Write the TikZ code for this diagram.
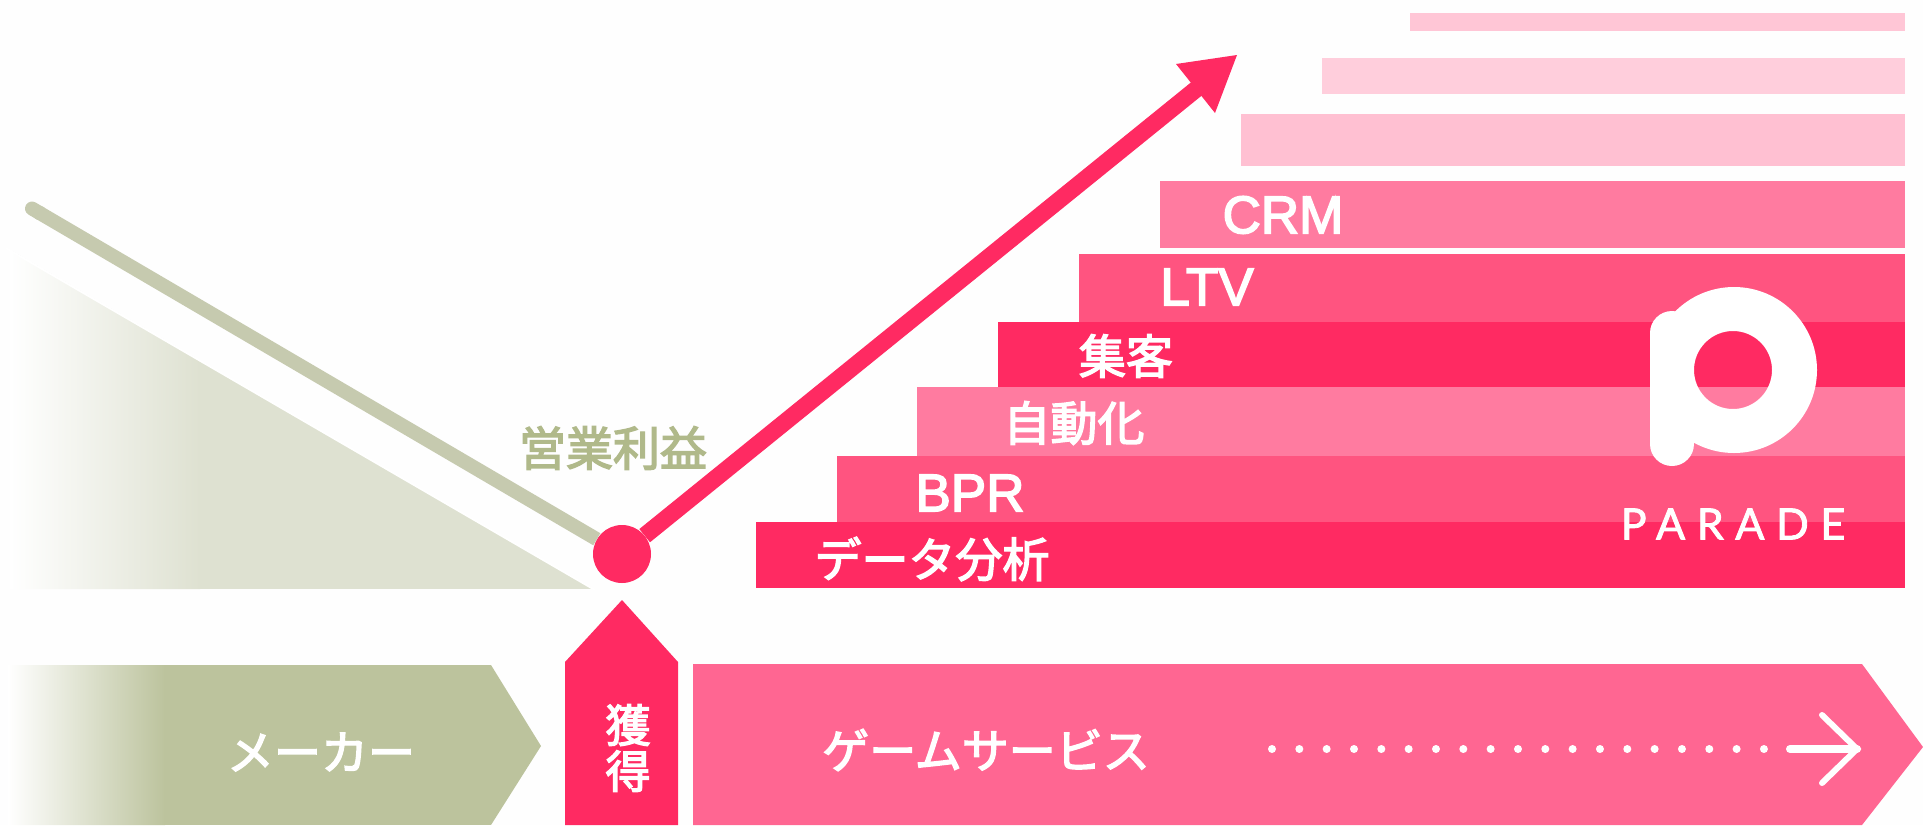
\documentclass[tikz,border=0pt]{standalone}
\usepackage{fontspec}
\usetikzlibrary{arrows.meta}
\setmainfont{Liberation Sans}
\newfontfamily\cjkf[FakeBold=3]{Noto Sans CJK JP}
\newfontfamily\latf[FakeBold=3]{Liberation Sans}
\newfontfamily\logof[LetterSpace=27,FakeBold=2]{Lato}
\definecolor{pinkA}{HTML}{FF2A62}
\definecolor{pinkB}{HTML}{FF5480}
\definecolor{pinkC}{HTML}{FF7BA0}
\definecolor{pinkD}{HTML}{FFC0D2}
\definecolor{pinkE}{HTML}{FFCEDC}
\definecolor{pinkF}{HTML}{FFC6D6}
\definecolor{pinkG}{HTML}{FF6692}
\definecolor{oliveA}{HTML}{BCC39D}
\definecolor{oliveB}{HTML}{DEE1D1}
\definecolor{oliveC}{HTML}{C6CAAF}
\definecolor{oliveD}{HTML}{B0B98A}
\tikzset{
  jp/.style={inner sep=0pt,text=white,font=\cjkf\fontsize{47}{47}\selectfont},
  lat/.style={inner sep=0pt,text=white,font=\latf\fontsize{53}{53}\selectfont},
  flow/.style={line width=14pt},
  dots/.style={fill=white,circle,inner sep=0pt,minimum size=8pt}
}
\begin{document}
\begin{tikzpicture}[x=1pt,y=-1pt]
\useasboundingbox (0,0) rectangle (1923,825);
\fill[white!99.5!black] (0,0) rectangle (1923,825);
% stair bars
\fill[pinkF] (1410,13) rectangle (1905,31);
\fill[pinkE] (1322,58) rectangle (1905,94);
\fill[pinkD] (1241,114) rectangle (1905,166);
\fill[pinkC] (1160,181) rectangle (1905,248);
\fill[pinkB] (1079,254) rectangle (1905,322);
\fill[pinkA] (998,322) rectangle (1905,387);
\fill[pinkC] (917,387) rectangle (1905,456);
\fill[pinkB] (837,456) rectangle (1905,522);
\fill[pinkA] (756,522) rectangle (1905,588);
% labels on bars
\node[lat] (crm) at (1283,215) {CRM};
\node[lat] (ltv) at (1207,287) {LTV};
\node[jp] (shu) at (1126,356) {集客};
\node[jp] (jido) at (1074,423) {自動化};
\node[lat] (bpr) at (970,493) {BPR};
\node[jp] (data) at (932,559) {データ分析};
% logo
\fill[white,even odd rule] (1734,370) circle[radius=83] (1733,370) circle[radius=39];
\coordinate (stemT) at (1672,333);
\coordinate (stemB) at (1672,444);
\draw[white,line width=44pt,line cap=round] (stemT) -- (stemB);
\node[inner sep=0pt,text=white,font=\logof\fontsize{43}{43}\selectfont,anchor=center] (parade) at (1733,524) {PARADE};
% falling triangle
\begin{scope}
\clip (10,250) -- (593,589) -- (10,589) -- cycle;
\fill[left color=white,right color=oliveB,draw=none] (10,240) rectangle (200,589);
\fill[oliveB] (199,240) rectangle (593,589);
\end{scope}
\coordinate (triA) at (6,248);
\coordinate (triB) at (595,590);
\draw[white,line width=2pt] (triA) -- (triB);
% point and lines
\node[circle,fill=pinkA,minimum size=58pt,inner sep=0pt] (dot) at (622,554) {};
\coordinate (olivestart) at (26,205);
\draw[flow,oliveC,{Round Cap[]}-] (olivestart) -- (dot);
\coordinate (tip) at (1237,55);
\coordinate (headL) at (1176,64);
\coordinate (headR) at (1215,113);
\coordinate (neck) at (1205,82);
\draw[line width=17pt,pinkA] (dot) -- (neck);
\fill[pinkA] (tip) -- (headL) -- (headR) -- cycle;
\node[inner sep=0pt,text=oliveD,font=\cjkf\fontsize{47}{47}\selectfont] (profit) at (613,448) {営業利益};
% maker arrow
\begin{scope}
\clip (8,665) -- (491,665) -- (541,746) -- (491,825) -- (8,825) -- cycle;
\fill[left color=white,right color=oliveA,draw=none] (8,663) rectangle (165,825);
\fill[oliveA] (164,663) rectangle (545,825);
\end{scope}
\node[jp] (maker) at (321,752) {メーカー};
% acquisition arrow
\fill[pinkA] (565,825) -- (565,662) -- (622,600) -- (678,662) -- (678,825) -- cycle;
\node[jp,align=center,font=\cjkf\fontsize{45}{46}\selectfont] (get) at (628,748) {獲\\得};
% game service arrow
\fill[pinkG] (693,825) -- (693,664) -- (1862,664) -- (1923,747) -- (1862,825) -- cycle;
\node[jp] (game) at (986,750) {ゲームサービス};
% dotted arrow
\foreach \i in {0,...,18} \node[dots] (d\i) at ({1272+\i*27.33},749) {};
\coordinate (a0) at (1790,749);
\coordinate (a1) at (1857,749);
\coordinate (b1) at (1822,715);
\coordinate (b2) at (1822,783);
\draw[white,line width=8pt,line cap=round] (a0) -- (a1);
\draw[white,line width=6pt,line cap=round,line join=miter] (b1) -- (a1) -- (b2);
\end{tikzpicture}
\end{document}
